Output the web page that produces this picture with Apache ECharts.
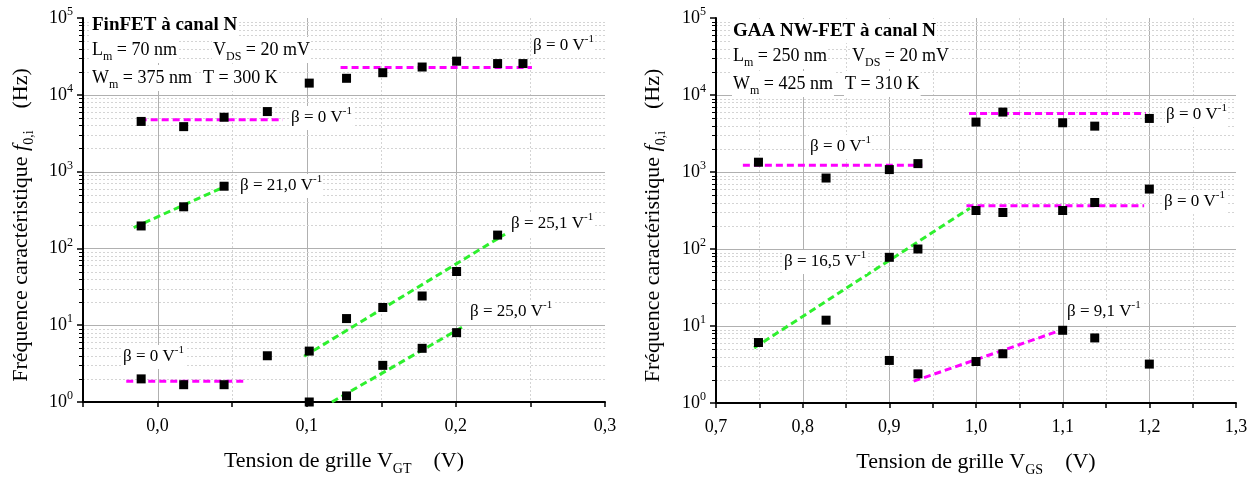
<!DOCTYPE html>
<html><head><meta charset="utf-8">
<script src="https://cdn.jsdelivr.net/npm/echarts@6/dist/echarts.min.js"></script>
<style>html,body{margin:0;padding:0;background:#fff}#c{width:1257px;height:477px}</style>
</head><body><div id="c"></div>
<script>
// ---------- Tick labels ----------
const finfetXTicks = [-0.05, 0, 0.05, 0.1, 0.15, 0.2, 0.25, 0.3];
const gaaXTicks = [0.7, 0.75, 0.8, 0.85, 0.9, 0.95, 1.0, 1.05, 1.1, 1.15, 1.2, 1.25, 1.3];
const yDecades = [1, 10, 100, 1000, 10000, 100000];
const minorMult = [2, 3, 4, 5, 6, 7, 8, 9];

// ---------- FinFET (left) data ----------
const finfetHighVgt = [-0.011, 0.0175, 0.0446, 0.0736, 0.1017, 0.1267, 0.151, 0.1774, 0.2005, 0.228, 0.245];
const finfetHighF   = [4500, 3850, 5100, 6050, 14200, 16400, 19400, 23000, 27400, 25500, 25500];
const finfetMidVgt  = [-0.011, 0.0175, 0.0446];
const finfetMidF    = [196, 348, 645];
const finfetLowVgt  = [-0.011, 0.0175, 0.0446, 0.0736, 0.1017, 0.1267, 0.151, 0.1774, 0.2005, 0.228];
const finfetLowF    = [2.0, 1.68, 1.68, 4.0, 4.6, 12.2, 17, 24, 50, 149];
const finfetLow2Vgt = [0.1017, 0.1267, 0.151, 0.1774, 0.2005];
const finfetLow2F   = [1.0, 1.2, 3.0, 5.0, 8.0];

// FinFET fit lines
const fitF1x = [-0.012, 0.084],  fitF1y = [4750, 4750];
const fitF2x = [0.1227, 0.251],  fitF2y = [22600, 22600];
const fitF3x = [-0.016, 0.0465], fitF3y = [187, 656];
const fitF4x = [-0.021, 0.06],   fitF4y = [1.86, 1.86];
const fitF5x = [0.0983, 0.233],  fitF5y = [3.94, 153];
const fitF6x = [0.1169, 0.2045], fitF6y = [1.0, 9.5];

// ---------- GAA NW-FET (right) data ----------
const gaaHighVgs = [0.749, 0.827, 0.9, 0.933, 1.0, 1.031, 1.1, 1.137, 1.2];
const gaaHighF   = [1340, 835, 1075, 1285, 4450, 6000, 4360, 3940, 4960];
const gaaMidVgs  = [0.749, 0.827, 0.9, 0.933, 1.0, 1.031, 1.1, 1.137, 1.2];
const gaaMidF    = [6.1, 11.9, 78, 100, 316, 298, 316, 402, 600];
const gaaLowVgs  = [0.9, 0.933, 1.0, 1.031, 1.1, 1.137, 1.2];
const gaaLowF    = [3.57, 2.39, 3.46, 4.36, 8.8, 7.0, 3.2];

// GAA fit lines
const fitG1x = [0.731, 0.938], fitG1y = [1222, 1222];
const fitG2x = [0.992, 1.196], fitG2y = [5770, 5770];
const fitG3x = [0.989, 1.194], fitG3y = [364, 364];
const fitG4x = [0.744, 0.993], fitG4y = [5.2, 339];
const fitG5x = [0.928, 1.101], fitG5y = [1.92, 9.05];

// ---------- styling ----------
const FONT = 'Liberation Serif';
const MAGENTA = '#ff00ff';
const GREEN = '#2ef02e';
const pairs = (xs, ys) => xs.map((x, i) => [x, ys[i]]);

function gridItems(xTicks) {
  const items = [];
  const xMin = xTicks[0];
  xTicks.forEach((x, i) => {
    if (i === 0 || i === xTicks.length - 1) return;
    const major = Math.abs(x * 10 - Math.round(x * 10)) < 1e-6;
    items.push([x, 1, major ? 0 : 1]);
  });
  yDecades.forEach((d, i) => {
    if (i > 0 && i < yDecades.length - 1) items.push([xMin, d, 2]);
    if (i < yDecades.length - 1) minorMult.forEach(m => items.push([xMin, d * m, 3]));
  });
  return items;
}

function gridRender(params, api) {
  const cs = params.coordSys;
  const k = api.value(2);
  const major = (k === 0 || k === 2);
  const st = major ? {stroke: '#b0b0b0', lineWidth: 1} : {stroke: '#d4d4d4', lineWidth: 1, lineDash: [2, 2]};
  if (k <= 1) {
    const px = Math.round(api.coord([api.value(0), 1])[0]) + 0.5;
    return {type: 'line', silent: true, shape: {x1: px, y1: cs.y, x2: px, y2: cs.y + cs.height}, style: st};
  }
  const py = Math.round(api.coord([api.value(0), api.value(1)])[1]) + 0.5;
  const line = {type: 'line', silent: true, shape: {x1: cs.x, y1: py, x2: cs.x + cs.width, y2: py}, style: st};
  if (k === 2) return line;
  return {type: 'group', children: [line,
    {type: 'line', silent: true, shape: {x1: cs.x - 4, y1: py, x2: cs.x, y2: py}, style: {stroke: '#000', lineWidth: 1}}]};
}

function xAxisFor(idx, ticks, sub) {
  return {
    type: 'value', gridIndex: idx, min: ticks[0], max: ticks[ticks.length - 1], interval: 0.05, z: 3,
    axisLine: {show: true, onZero: false, lineStyle: {color: '#000', width: 2}},
    axisTick: {show: true, inside: false, length: 5, lineStyle: {color: '#000', width: 1.5}},
    splitLine: {show: false},
    axisLabel: {
      show: true, margin: 15, showMinLabel: true, showMaxLabel: true,
      fontFamily: FONT, fontSize: 18, color: '#000',
      formatter: v => (Math.abs(v * 10 - Math.round(v * 10)) < 1e-6 && !(idx === 0 && v < -0.01)) ? v.toFixed(1).replace('.', ',') : ''
    },
    name: '{n|Tension de grille V}{s|' + sub + '}{n|    (V)}',
    nameLocation: 'middle', nameGap: 44,
    nameTextStyle: {
      fontFamily: FONT, fontSize: 22, color: '#000',
      rich: {
        n: {fontFamily: FONT, fontSize: 22, color: '#000', lineHeight: 30, verticalAlign: 'middle'},
        s: {fontFamily: FONT, fontSize: 14, color: '#000', lineHeight: 14, verticalAlign: 'bottom'}
      }
    }
  };
}

function yAxisFor(idx, gap) {
  return {
    type: 'log', logBase: 10, gridIndex: idx, min: 1, max: 100000, splitNumber: 5, z: 3,
    axisLine: {show: true, onZero: false, lineStyle: {color: '#000', width: 2}},
    axisTick: {show: true, inside: false, length: 6, lineStyle: {color: '#000', width: 1.5}},
    splitLine: {show: false},
    axisLabel: {
      margin: 10, fontFamily: FONT, fontSize: 18, color: '#000',
      formatter: v => '{b|10}{p|' + Math.round(Math.log10(v)) + '}',
      rich: {
        b: {fontFamily: FONT, fontSize: 18, color: '#000', lineHeight: 24, verticalAlign: 'middle'},
        p: {fontFamily: FONT, fontSize: 12, color: '#000', lineHeight: 12, verticalAlign: 'top'}
      }
    },
    name: '{n|Fréquence caractéristique }{i|f}{s|0,i}{n|    (Hz)}',
    nameLocation: 'middle', nameGap: gap, nameRotate: 90,
    nameTextStyle: {
      fontFamily: FONT, fontSize: 22, color: '#000', padding: [0, 30, 0, 0],
      rich: {
        n: {fontFamily: FONT, fontSize: 22, color: '#000', lineHeight: 30, verticalAlign: 'middle'},
        i: {fontFamily: FONT, fontSize: 22, fontStyle: 'italic', color: '#000', lineHeight: 30, verticalAlign: 'middle'},
        s: {fontFamily: FONT, fontSize: 14, color: '#000', lineHeight: 14, verticalAlign: 'bottom'}
      }
    }
  };
}

function scatter(idx, xs, ys) {
  return {type: 'scatter', xAxisIndex: idx, yAxisIndex: idx, data: pairs(xs, ys), symbol: 'rect', symbolSize: 9,
    itemStyle: {color: '#000', opacity: 1}, z: 6, silent: true};
}
function fit(idx, xs, ys, color) {
  return {type: 'line', xAxisIndex: idx, yAxisIndex: idx, data: pairs(xs, ys), showSymbol: false, symbol: 'none',
    lineStyle: {color: color, width: 3, type: [7, 4], opacity: 1}, z: 5, silent: true};
}

const richText = {
  s: {fontFamily: FONT, fontSize: 12, fill: '#000', lineHeight: 12, verticalAlign: 'bottom'},
  p: {fontFamily: FONT, fontSize: 11, fill: '#000', lineHeight: 11, verticalAlign: 'top'},
  n: {fontFamily: FONT, fontSize: 18, fill: '#000', lineHeight: 26, verticalAlign: 'middle'},
  m: {fontFamily: FONT, fontSize: 17, fill: '#000', lineHeight: 24, verticalAlign: 'middle'},
  b: {fontFamily: FONT, fontSize: 19, fontWeight: 'bold', fill: '#000', lineHeight: 24, verticalAlign: 'middle'}
};
function txt(x, y, text) {
  return {type: 'text', x: x, y: y, z: 20, silent: true,
    style: {text: text, fontFamily: FONT, fontSize: 18, fill: '#000', align: 'left', verticalAlign: 'middle',
      backgroundColor: '#fff', padding: [0, 1, 0, 1], rich: richText}};
}
const beta = v => '{m|β = ' + v + ' V}{p|-1}';

const chart = echarts.init(document.getElementById('c'), null, {renderer: 'canvas'});
chart.setOption({
  animation: false,
  backgroundColor: '#fff',
  grid: [
    {left: 83, top: 18, width: 522, height: 384, outerBoundsMode: 'none', containLabel: false},
    {left: 716, top: 18, width: 520, height: 385, outerBoundsMode: 'none', containLabel: false}
  ],
  xAxis: [xAxisFor(0, finfetXTicks, 'GT'), xAxisFor(1, gaaXTicks, 'GS')],
  yAxis: [yAxisFor(0, 47), yAxisFor(1, 48)],
  series: [
    {type: 'custom', xAxisIndex: 0, yAxisIndex: 0, data: gridItems(finfetXTicks), encode: {x: 0, y: 1}, renderItem: gridRender, z: 1, silent: true, clip: false},
    {type: 'custom', xAxisIndex: 1, yAxisIndex: 1, data: gridItems(gaaXTicks), encode: {x: 0, y: 1}, renderItem: gridRender, z: 1, silent: true, clip: false},
    fit(0, fitF1x, fitF1y, MAGENTA),
    fit(0, fitF2x, fitF2y, MAGENTA),
    fit(0, fitF3x, fitF3y, GREEN),
    fit(0, fitF4x, fitF4y, MAGENTA),
    fit(0, fitF5x, fitF5y, GREEN),
    fit(0, fitF6x, fitF6y, GREEN),
    scatter(0, finfetHighVgt, finfetHighF),
    scatter(0, finfetMidVgt, finfetMidF),
    scatter(0, finfetLowVgt, finfetLowF),
    scatter(0, finfetLow2Vgt, finfetLow2F),
    fit(1, fitG1x, fitG1y, MAGENTA),
    fit(1, fitG2x, fitG2y, MAGENTA),
    fit(1, fitG3x, fitG3y, MAGENTA),
    fit(1, fitG4x, fitG4y, GREEN),
    fit(1, fitG5x, fitG5y, MAGENTA),
    scatter(1, gaaHighVgs, gaaHighF),
    scatter(1, gaaMidVgs, gaaMidF),
    scatter(1, gaaLowVgs, gaaLowF)
  ],
  graphic: [
    // left info block
    txt(91, 25, '{b|FinFET à canal N}'),
    txt(91, 50, '{n|L}{s|m}{n| = 70 nm}'),
    txt(212, 50, '{n|V}{s|DS}{n| = 20 mV}'),
    txt(91, 78, '{n|W}{s|m}{n| = 375 nm}'),
    txt(202, 78, '{n|T = 300 K}'),
    // left beta labels
    txt(532, 46, beta('0')),
    txt(290, 118, beta('0')),
    txt(239, 186, beta('21,0')),
    txt(510, 224, beta('25,1')),
    txt(469, 312, beta('25,0')),
    txt(122, 357, beta('0')),
    // right info block
    txt(732, 31, '{b|GAA NW-FET à canal N}'),
    txt(732, 56, '{n|L}{s|m}{n| = 250 nm}'),
    txt(851, 56, '{n|V}{s|DS}{n| = 20 mV}'),
    txt(732, 84, '{n|W}{s|m}{n| = 425 nm}'),
    txt(844, 84, '{n|T = 310 K}'),
    // right beta labels
    txt(1165, 115, beta('0')),
    txt(809, 147, beta('0')),
    txt(1163, 202, beta('0')),
    txt(783, 262, beta('16,5')),
    txt(1066, 312, beta('9,1'))
  ]
});
</script>
</body></html>
